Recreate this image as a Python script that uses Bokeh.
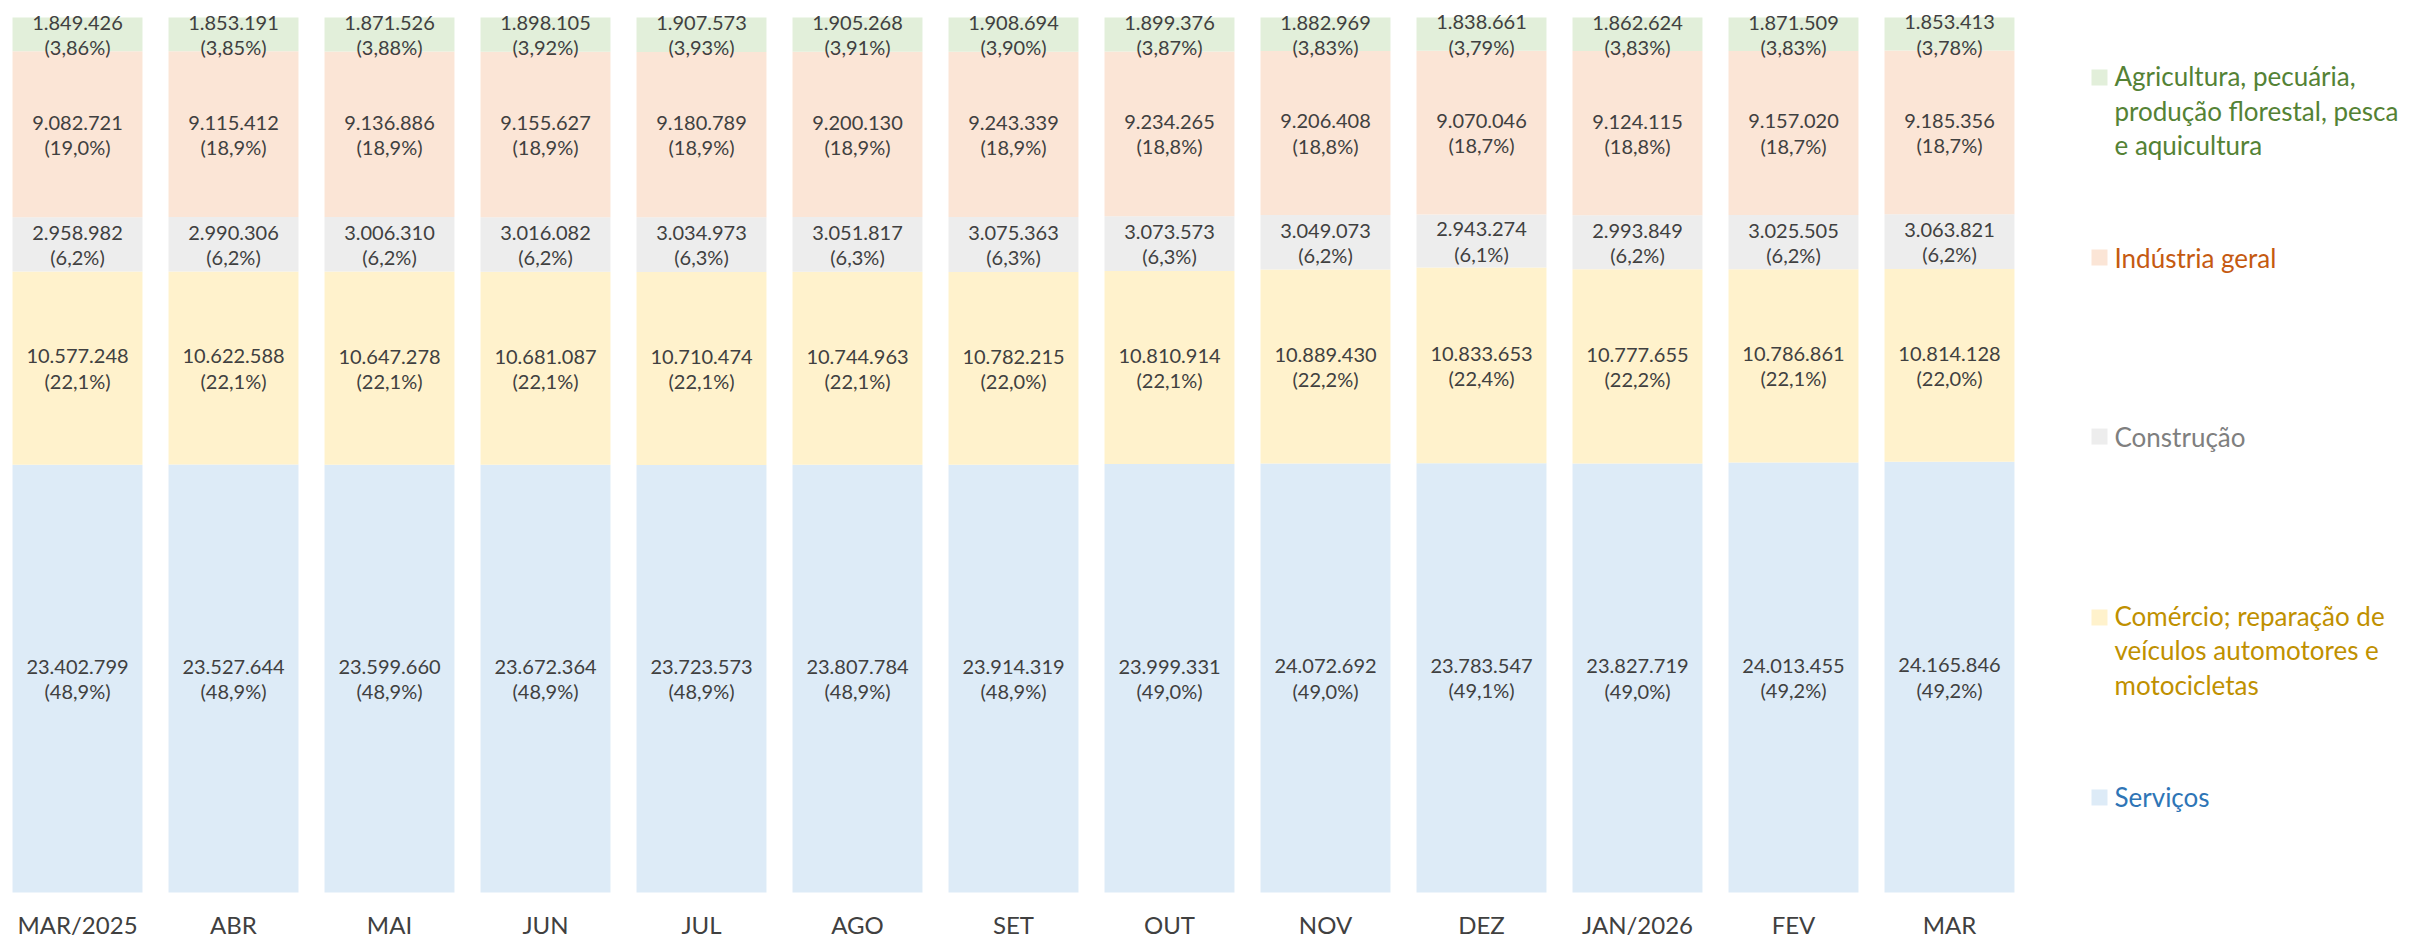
import numpy as np
from bokeh.plotting import figure
from bokeh.models import ColumnDataSource, Range1d
from bokeh.core.properties import value
from bokeh.embed import file_html
from bokeh.resources import INLINE

months = ["MAR/2025", "ABR", "MAI", "JUN", "JUL", "AGO", "SET", "OUT", "NOV", "DEZ", "JAN/2026", "FEV", "MAR"]

servicos = [23402799, 23527644, 23599660, 23672364, 23723573, 23807784, 23914319, 23999331, 24072692, 23783547, 23827719, 24013455, 24165846]
comercio = [10577248, 10622588, 10647278, 10681087, 10710474, 10744963, 10782215, 10810914, 10889430, 10833653, 10777655, 10786861, 10814128]
construcao = [2958982, 2990306, 3006310, 3016082, 3034973, 3051817, 3075363, 3073573, 3049073, 2943274, 2993849, 3025505, 3063821]
industria = [9082721, 9115412, 9136886, 9155627, 9180789, 9200130, 9243339, 9234265, 9206408, 9070046, 9124115, 9157020, 9185356]
agricultura = [1849426, 1853191, 1871526, 1898105, 1907573, 1905268, 1908694, 1899376, 1882969, 1838661, 1862624, 1871509, 1853413]

pct_servicos = ["48,9", "48,9", "48,9", "48,9", "48,9", "48,9", "48,9", "49,0", "49,0", "49,1", "49,0", "49,2", "49,2"]
pct_comercio = ["22,1", "22,1", "22,1", "22,1", "22,1", "22,1", "22,0", "22,1", "22,2", "22,4", "22,2", "22,1", "22,0"]
pct_construcao = ["6,2", "6,2", "6,2", "6,2", "6,3", "6,3", "6,3", "6,3", "6,2", "6,1", "6,2", "6,2", "6,2"]
pct_industria = ["19,0", "18,9", "18,9", "18,9", "18,9", "18,9", "18,9", "18,8", "18,8", "18,7", "18,8", "18,7", "18,7"]
pct_agricultura = ["3,86", "3,85", "3,88", "3,92", "3,93", "3,91", "3,90", "3,87", "3,83", "3,79", "3,83", "3,83", "3,78"]

series_names = ["Serviços", "Comércio; reparação de\nveículos automotores e\nmotocicletas", "Construção",
                "Indústria geral", "Agricultura, pecuária,\nprodução florestal, pesca\ne aquicultura"]
fill_colors = ["#DDEBF7", "#FFF2CC", "#EDEDED", "#FBE5D6", "#E2EFDA"]
text_colors = ["#2E75B6", "#BF9000", "#7F7F7F", "#C55A11", "#548235"]

series = [servicos, comercio, construcao, industria, agricultura]
pcts = [pct_servicos, pct_comercio, pct_construcao, pct_industria, pct_agricultura]

FONT = "Lato"
LABEL_COLOR = "#404040"


def fmt(v):
    return f"{v:,}".replace(",", ".")


x = np.arange(len(months))
vals = np.array(series, dtype=float)
totals = vals.sum(axis=0)
shares = vals / totals

p = figure(width=2412, height=939, output_backend="svg", toolbar_location=None,
           x_axis_location=None, y_axis_location=None,
           x_range=Range1d(-0.49359, 14.968), y_range=Range1d(-0.05371, 1.01943),
           min_border_left=0, min_border_right=0, min_border_top=0, min_border_bottom=0)
p.outline_line_color = None
p.grid.visible = False
p.background_fill_color = "white"
p.border_fill_color = "white"

bottom = np.zeros(len(months))
for k in range(len(series)):
    top = bottom + shares[k]
    src = ColumnDataSource(dict(
        x=x, bottom=bottom, top=top, mid=(bottom + top) / 2,
        label=[f"{fmt(v)}\n({pc}%)" for v, pc in zip(series[k], pcts[k])],
    ))
    p.vbar(x="x", bottom="bottom", top="top", width=0.833, source=src,
           fill_color=fill_colors[k], line_color=None)
    p.text(x="x", y="mid", text="label", source=src, text_align="center",
           text_baseline="middle", text_font=value(FONT), text_font_size="20px",
           text_color=LABEL_COLOR, text_line_height=1.05)
    bottom = top

# category labels
cat_src = ColumnDataSource(dict(x=x, y=np.full(len(months), -0.0366), text=months))
p.text(x="x", y="y", text="text", source=cat_src, text_align="center", text_baseline="middle",
       text_font=value(FONT), text_font_size="24px", text_color=LABEL_COLOR)

# legend (bottom item first, matching stack order)
leg_first_line_y = [0.1086, 0.3143, 0.5211, 0.7257, 0.9314]
line_step = 33 / 875
nlines = [n.count("\n") + 1 for n in series_names]
leg_src = ColumnDataSource(dict(
    sx=[12.9615] * 5, tx=[13.0577] * 5,
    sy=leg_first_line_y,
    ty=[y - (n - 1) * line_step / 2 for y, n in zip(leg_first_line_y, nlines)],
    text=series_names, fill=fill_colors, tcolor=text_colors,
))
p.rect(x="sx", y="sy", width=16, height=16, width_units="screen", height_units="screen",
       fill_color="fill", line_color=None, source=leg_src)
p.text(x="tx", y="ty", text="text", text_color="tcolor", source=leg_src, text_align="left",
       text_baseline="middle", text_font=value(FONT), text_font_size="26px", text_line_height=1.07)

open("out.html", "w").write(file_html(p, INLINE))
